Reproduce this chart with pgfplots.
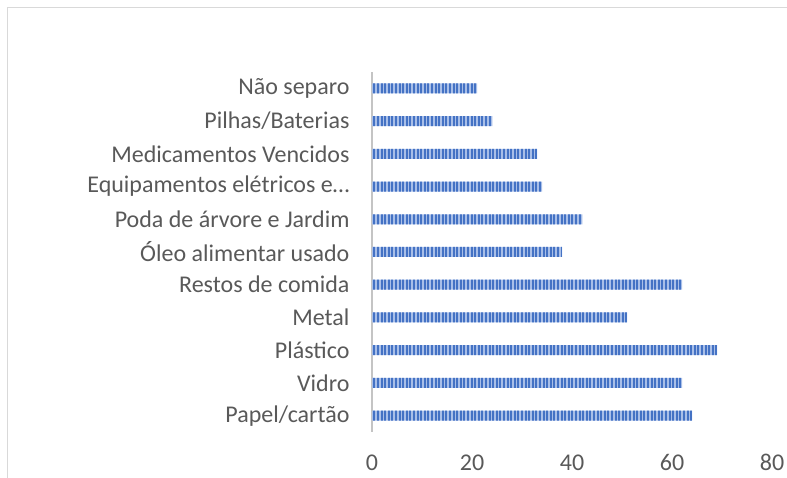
\documentclass[border=0pt]{standalone}
\usepackage{fontspec}
\setmainfont{Carlito}
\usepackage{pgfplots}
\pgfplotsset{compat=1.18}
\usetikzlibrary{patterns.meta}
\definecolor{txt}{HTML}{595959}
\definecolor{barD}{HTML}{4472C4}
\definecolor{barL}{HTML}{A9BFE8}
\definecolor{axg}{HTML}{C4C4C4}
\definecolor{brd}{HTML}{D9D9D9}
\begin{document}
\begin{tikzpicture}[x=1pt,y=1pt]
\useasboundingbox (0,0) rectangle (787,478);
\draw[brd, line width=1.2pt] (7.5,-2) -- (7.5,470.5) -- (790,470.5);
\begin{axis}[
  at={(372pt,46pt)}, anchor=south west,
  scale only axis, width=400pt, height=360pt,
  xbar, bar width=10pt,
  xmin=0, xmax=80, ymin=-0.5, ymax=10.5,
  xtick={0,20,40,60,80},
  ytick={0,...,10},
  yticklabels={Papel/cartão,Vidro,Plástico,Metal,Restos de comida,Óleo alimentar usado,Poda de árvore e Jardim,Equipamentos elétricos e…,Medicamentos Vencidos,Pilhas/Baterias,Não separo},
  axis lines*=left,
  x axis line style={draw=none},
  y axis line style={draw=axg, line width=2.5pt},
  major tick length=0pt,
  tick style={draw=none},
  /pgf/number format/assume math mode=true,
  ticklabel style={font=\fontsize{24}{28}\selectfont, text=txt},
  xticklabel style={yshift=-19pt},
  yticklabel style={xshift=-19pt},
  clip=false,
]
\addplot[draw=none, fill=barL, postaction={pattern={Lines[angle=90,distance=3.6pt,line width=1.9pt]}, pattern color=barD}]
  coordinates {(64,0) (62,1) (69,2) (51,3) (62,4) (38,5) (42,6) (34,7) (33,8) (24,9) (21,10)};
\end{axis}
\end{tikzpicture}
\end{document}
